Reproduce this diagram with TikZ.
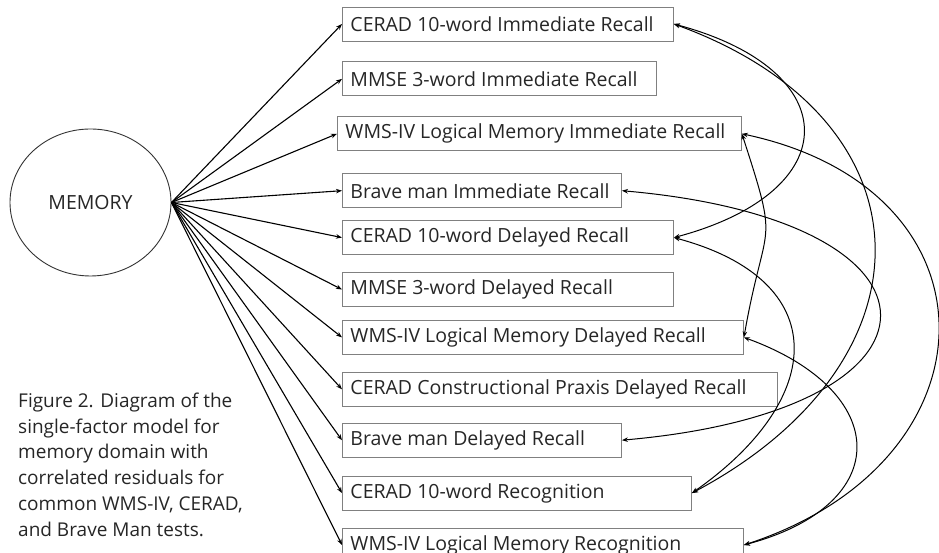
\documentclass[tikz,border=0pt]{standalone}
\usepackage{fontspec}
\setmainfont{Open Sans}
\usetikzlibrary{positioning,shapes.geometric,arrows.meta}

\newcommand\boxtext[2]{\makebox[#1][l]{#2}}

\begin{document}
\begin{tikzpicture}[x=1pt,y=1pt,>={Stealth[length=6pt,width=4.5pt]},
    every node/.style={font=\fontsize{19.5}{24}\selectfont, text=black!85},
    test/.style={draw=black!50, line width=0.9pt, anchor=west, minimum height=34pt, inner xsep=8pt, inner ysep=0pt}]
    \useasboundingbox (0,0) rectangle (939,553);

    \node (M) [ellipse, draw=black!80, line width=0.9pt, minimum width=161pt, minimum height=147pt, inner sep=0pt] at (90.5,350.5) {MEMORY};

    \node (1) [test] at (342,529) {\boxtext{315pt}{CERAD 10-word Immediate Recall}};
    \node (2) [test, below=20pt of 1.south west, anchor=north west] {\boxtext{298pt}{MMSE 3-word Immediate Recall}};
    \node (3) [test, below=20pt of 2.south west, anchor=north west, xshift=-5pt] {\boxtext{388pt}{WMS-IV Logical Memory Immediate Recall}};
    \node (4) [test, below=22pt of 3.south west, anchor=north west, xshift=5pt] {\boxtext{263pt}{Brave man Immediate Recall}};
    \node (5) [test, below=12pt of 4.south west, anchor=north west] {\boxtext{315pt}{CERAD 10-word Delayed Recall}};
    \node (6) [test, below=17pt of 5.south west, anchor=north west] {\boxtext{315pt}{MMSE 3-word Delayed Recall}};
    \node (7) [test, below=13pt of 6.south west, anchor=north west] {\boxtext{385pt}{WMS-IV Logical Memory Delayed Recall}};
    \node (8) [test, below=17pt of 7.south west, anchor=north west] {\boxtext{419pt}{CERAD Constructional Praxis Delayed Recall}};
    \node (9) [test, below=16pt of 8.south west, anchor=north west] {\boxtext{263pt}{Brave man Delayed Recall}};
    \node (10) [test, below=18pt of 9.south west, anchor=north west] {\boxtext{333pt}{CERAD 10-word Recognition}};
    \node (11) [test, below=17pt of 10.south west, anchor=north west] {\boxtext{385pt}{WMS-IV Logical Memory Recognition}};

    \node (cap) [anchor=north west, align=left, inner sep=0pt, font=\fontsize{19}{25.8}\selectfont] at (18,160.5)
      {Figure 2. Diagram of the\\single-factor model for\\memory domain with\\correlated residuals for\\common WMS-IV, CERAD,\\and Brave Man tests.};

    % loadings
    \path[line width=1.1pt]
          (M.east) edge[->] (1.west)
          (M.east) edge[->] (2.west)
          (M.east) edge[->] (3.west)
          (M.east) edge[->] (4.west)
          (M.east) edge[->] (5.west)
          (M.east) edge[->] (6.west)
          (M.east) edge[->] (7.west)
          (M.east) edge[->] (8.west)
          (M.east) edge[->] (9.west)
          (M.east) edge[->] (10.west)
          (M.east) edge[->] (11.west);

    % correlated residuals
    \path[line width=1pt]
          (1.east) edge[<->, out=-15, in=15, distance=179pt] (5.east)
          (1.east) edge[<->, out=-20, in=28, distance=280pt] (10.east)
          (3.east) edge[<->, out=-72, in=80, distance=124pt] (7.east)
          (3.east) edge[<->, out=-12, in=18, distance=270pt] (11.east)
          (4.east) edge[<->, out=-5, in=5, distance=345pt] (9.east)
          (5.east) edge[<->, out=-15, in=35, distance=165pt] (10.east)
          (7.east) edge[<->, out=-20, in=15, distance=157pt] (11.east);
\end{tikzpicture}
\end{document}
